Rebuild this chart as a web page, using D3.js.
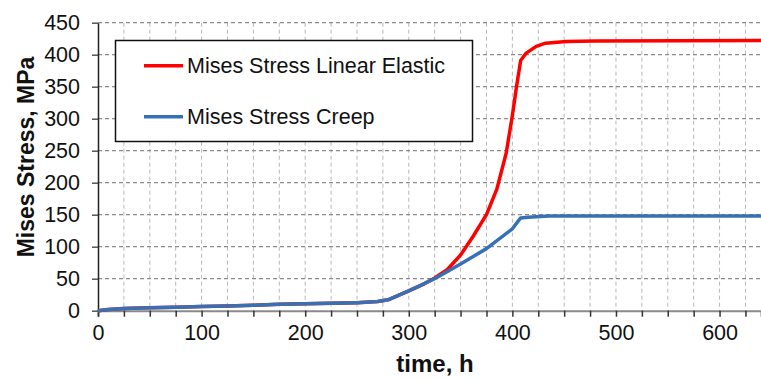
<!DOCTYPE html>
<html>
<head>
<meta charset="utf-8">
<script src="https://cdn.jsdelivr.net/npm/d3@7"></script>
<style>
  body { margin: 0; background: #fff; }
  svg { display: block; font-family: "Liberation Sans", Arial, sans-serif; }
</style>
</head>
<body>
<div id="chart"></div>
<script>
// data
var timeCreep = [0, 10, 25, 50, 75, 100, 125, 150, 175, 200, 225, 250, 270, 280, 300, 325, 350, 375, 400, 408, 415, 435, 500, 640];
var stressCreep = [0, 2, 3.5, 4.5, 5.5, 6.5, 7.5, 8.5, 10, 11, 11.5, 12.5, 14.5, 17, 31, 50, 73, 97, 128, 145, 146, 148, 148, 148];

var timeElastic = [0, 10, 25, 50, 75, 100, 125, 150, 175, 200, 225, 250, 270, 280, 300, 315, 325, 337, 350, 362, 375, 385, 394, 400, 404, 408, 413, 423, 432, 452, 480, 640];
var stressElastic = [0, 2, 3.5, 4.5, 5.5, 6.5, 7.5, 8.5, 10, 11, 11.5, 12.5, 14.5, 17, 31, 42, 51, 64, 87, 116, 150, 190, 246, 305, 350, 391, 402, 413, 418, 420.5, 421.5, 422];

var xTicks = [0, 100, 200, 300, 400, 500, 600];
var yTicks = [0, 50, 100, 150, 200, 250, 300, 350, 400, 450];
var seriesNames = ['Mises Stress Linear Elastic', 'Mises Stress Creep'];
var seriesColors = ['#ff0000', '#3771b5'];

var W = 761, H = 379;
var margin = {top: 22.7, right: 0, bottom: 68.3, left: 98};
var width = W - margin.left - margin.right,
    height = H - margin.top - margin.bottom;

var svg = d3.select('#chart').append('svg')
  .attr('width', W)
  .attr('height', H);

var g = svg.append('g')
  .attr('transform', 'translate(' + margin.left + ',' + margin.top + ')');

var x = d3.scaleLinear().domain([0, 640]).range([0, width]);
var y = d3.scaleLinear().domain([0, 450]).range([height, 0]);

// vertical grid every 25 h
g.append('g')
  .selectAll('line')
  .data(d3.range(25, 640, 25))
  .enter()
  .append('line')
  .attr('x1', function (d) { return x(d); })
  .attr('x2', function (d) { return x(d); })
  .attr('y1', 0)
  .attr('y2', height)
  .attr('stroke', '#b8b8b8')
  .attr('stroke-width', 1)
  .attr('stroke-dasharray', '4,3');

// horizontal grid every 50 MPa
g.append('g')
  .selectAll('line')
  .data(yTicks.slice(1))
  .enter()
  .append('line')
  .attr('x1', 0)
  .attr('x2', width)
  .attr('y1', function (d) { return y(d); })
  .attr('y2', function (d) { return y(d); })
  .attr('stroke', '#8c8c8c')
  .attr('stroke-width', 1.2)
  .attr('stroke-dasharray', '4,3');

// x axis
var xAxis = g.append('g')
  .attr('transform', 'translate(0,' + height + ')')
  .call(d3.axisBottom(x).tickValues(d3.range(0, 640, 25)).tickSize(6).tickFormat(function (d) {
    return xTicks.indexOf(d) >= 0 ? d : '';
  }));
xAxis.select('.domain').attr('stroke', '#8a8a8a').attr('stroke-width', 2);
xAxis.selectAll('.tick line').attr('stroke', '#333').attr('stroke-width', 1.5);
xAxis.selectAll('.tick text')
  .attr('font-size', '21.5px')
  .attr('fill', '#111')
  .attr('y', 14)
  .attr('font-family', '"Liberation Sans", Arial, sans-serif');

// y axis
var yAxis = g.append('g')
  .call(d3.axisLeft(y).tickValues(yTicks).tickSize(6).tickSizeOuter(0));
yAxis.select('.domain').attr('stroke', '#222').attr('stroke-width', 1.5);
yAxis.selectAll('.tick line').attr('stroke', '#555').attr('stroke-width', 1.5);
yAxis.selectAll('.tick text')
  .attr('font-size', '21.5px')
  .attr('fill', '#111')
  .attr('x', -18)
  .attr('font-family', '"Liberation Sans", Arial, sans-serif');

// lines
var line = d3.line()
  .x(function (d) { return x(d[0]); })
  .y(function (d) { return y(d[1]); });

var elastic = timeElastic.map(function (t, i) { return [t, stressElastic[i]]; });
var creep = timeCreep.map(function (t, i) { return [t, stressCreep[i]]; });

g.append('path')
  .datum(elastic)
  .attr('d', line)
  .attr('fill', 'none')
  .attr('stroke', seriesColors[0])
  .attr('stroke-width', 3.5)
  .attr('stroke-linejoin', 'round');

g.append('path')
  .datum(creep)
  .attr('d', line)
  .attr('fill', 'none')
  .attr('stroke', seriesColors[1])
  .attr('stroke-width', 3.5)
  .attr('stroke-linejoin', 'round');

// axis titles
svg.append('text')
  .attr('x', 435)
  .attr('y', 372)
  .attr('text-anchor', 'middle')
  .attr('font-size', '24px')
  .attr('font-weight', 'bold')
  .attr('fill', '#111')
  .text('time, h');

svg.append('text')
  .attr('transform', 'translate(34,157) rotate(-90)')
  .attr('text-anchor', 'middle')
  .attr('font-size', '23px')
  .attr('font-weight', 'bold')
  .attr('fill', '#111')
  .text('Mises Stress, MPa');

// legend
var legend = svg.append('g');
legend.append('rect')
  .attr('x', 115.5)
  .attr('y', 40.5)
  .attr('width', 357)
  .attr('height', 101)
  .attr('fill', '#fff')
  .attr('stroke', '#111')
  .attr('stroke-width', 1.5);

var legendY = [65.7, 116.7];
seriesNames.forEach(function (name, i) {
  legend.append('line')
    .attr('x1', 144)
    .attr('x2', 183)
    .attr('y1', legendY[i])
    .attr('y2', legendY[i])
    .attr('stroke', seriesColors[i])
    .attr('stroke-width', 3.5);
  legend.append('text')
    .attr('x', 187)
    .attr('y', legendY[i])
    .attr('dy', '0.35em')
    .attr('font-size', '21.5px')
    .attr('fill', '#111')
    .text(name);
});
</script>
</body>
</html>
